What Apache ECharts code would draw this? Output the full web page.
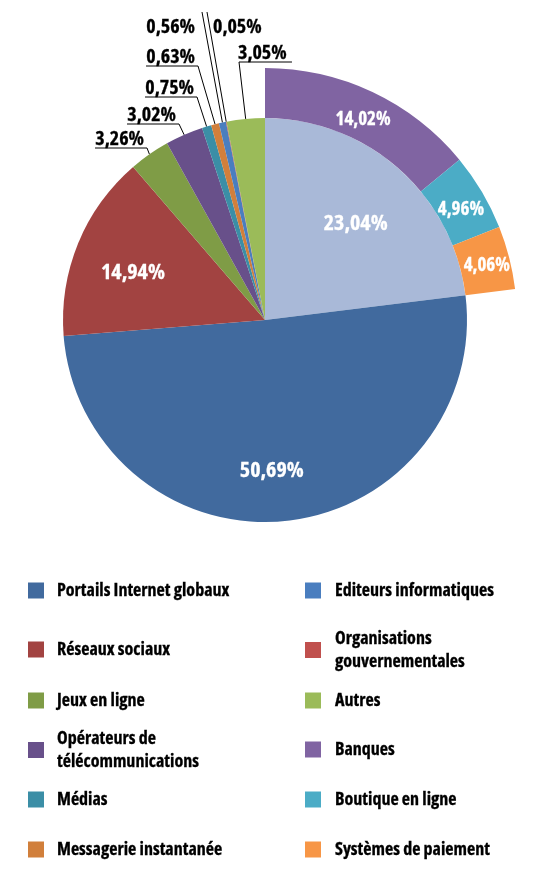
<!DOCTYPE html>
<html>
<head>
<meta charset="utf-8">
<script src="https://cdn.jsdelivr.net/npm/echarts@6/dist/echarts.min.js"></script>
<style>
  html, body { margin: 0; padding: 0; background: #fff; }
  #chart { width: 543px; height: 891px; }
</style>
</head>
<body>
<div id="chart"></div>
<script>
// inner pie (clockwise from top). first slice = total of the three outer ones
const innerNames = ['Commerce et paiement', 'Portails Internet globaux', 'Réseaux sociaux', 'Jeux en ligne',
  'Opérateurs de télécommunications', 'Médias', 'Messagerie instantanée', 'Editeurs informatiques',
  'Organisations gouvernementales', 'Autres'];
const innerValues = [23.04, 50.69, 14.94, 3.26, 3.02, 0.75, 0.63, 0.56, 0.05, 3.05];
const innerColors = ['#a9b9d8', '#416a9e', '#a24341', '#7f9c46', '#68508a', '#3b8ea6', '#d17f3b', '#4a7ebf',
  '#c0504d', '#9bbb59'];

// outer ring, detail of the first inner slice
const outerNames = ['Banques', 'Boutique en ligne', 'Systèmes de paiement'];
const outerValues = [14.02, 4.96, 4.06];
const outerColors = ['#8064a2', '#4bacc6', '#f79646'];

// legend, two columns
const legendLeft = ['Portails Internet globaux', 'Réseaux sociaux', 'Jeux en ligne',
  'Opérateurs de télécommunications', 'Médias', 'Messagerie instantanée'];
const legendRight = ['Editeurs informatiques', 'Organisations gouvernementales', 'Autres',
  'Banques', 'Boutique en ligne', 'Systèmes de paiement'];
const legendText = {
  'Opérateurs de télécommunications': 'Opérateurs de\ntélécommunications',
  'Organisations gouvernementales': 'Organisations\ngouvernementales'
};

// condensed face of Open Sans
const TXT = { fontFamily: '"Open Sans", "Open Sans Condensed", sans-serif', fontStyle: 'condensed', fontWeight: 700 };
const CX = 265, CY = 320, R = 202, R_OUT = 252;

const pct = v => v.toFixed(2).replace('.', ',') + '%';
const insideLabels = [0, 1, 2];   // big inner slices labelled inside

// where the callout lines bend (page pixels)
const callouts = {
  3: { kind: 'under', ex: 147, ey: 148 },
  4: { kind: 'under', ex: 179, ey: 124 },
  5: { kind: 'under', ex: 197, ey: 97 },
  6: { kind: 'under', ex: 198, ey: 66 },
  7: { kind: 'up-left', ex: 202, ey: 12, ly: 27 },
  8: { kind: 'up-right', ex: 207, ey: 12, ly: 27 },
  9: { kind: 'under-right', ex: 239, ey: 62 }
};
// small nudges of the labels drawn inside slices
const innerNudge = { 0: [-6, 13], 1: [-8, 5], 2: [3, 8] };
const outerNudge = { 0: [0, 8], 1: [-2, 7], 2: [-1, 3] };

const outerTotal = outerValues.reduce((a, b) => a + b, 0);
const innerTotal = innerValues.reduce((a, b) => a + b, 0);

const innerData = innerNames.map((n, i) => ({
  name: n, value: innerValues[i],
  itemStyle: { color: innerColors[i] },
  label: { show: !insideLabels.includes(i) },
  labelLine: { show: !insideLabels.includes(i) }
}));

const carrierData = innerNames.map((n, i) => ({
  name: n, value: innerValues[i],
  label: { show: insideLabels.includes(i) }
}));

const outerData = outerNames.map((n, i) => ({
  name: n, value: outerValues[i], itemStyle: { color: outerColors[i] }
}));
outerData.push({
  name: '', value: innerTotal - outerTotal,
  itemStyle: { color: 'transparent' }, label: { show: false }, emphasis: { disabled: true }
});

const legends = [];
[legendLeft, legendRight].forEach((col, c) => {
  const rowY = [590, 649, 700, 749, 799, 849];
  col.forEach((name, r) => {
    const lines = (legendText[name] || name).split('\n').length;
    legends.push({
      data: [name],
      left: c === 0 ? 28 : 305,
      top: rowY[r] - 11 * lines,
      padding: 0,
      icon: 'rect',
      itemWidth: 16,
      itemHeight: 16,
      selectedMode: false,
      formatter: n => legendText[n] || n,
      textStyle: Object.assign({}, TXT, {
        fontSize: 18, color: '#000', lineHeight: 23, padding: [0, 0, 0, c === 0 ? 8 : 9],
        textBorderColor: '#000', textBorderWidth: 0.3
      })
    });
  });
});

const nudge = table => p => {
  const d = table[p.dataIndex];
  return d ? { dx: d[0], dy: d[1] } : {};
};

const chart = echarts.init(document.getElementById('chart'), null, { renderer: 'canvas' });
chart.setOption({
  animation: false,
  legend: legends,
  series: [
    {
      type: 'pie',
      center: [CX, CY],
      radius: [0, R],
      startAngle: 90,
      clockwise: true,
      avoidLabelOverlap: false,
      silent: true,
      data: innerData,
      label: Object.assign({}, TXT, {
        position: 'outside',
        formatter: p => pct(p.value),
        fontSize: 20, color: '#000', textBorderColor: '#000', textBorderWidth: 0.3
      }),
      labelLine: { length: 10, length2: 20, lineStyle: { color: '#000', width: 1 } },
      labelLayout: function (p) {
        const c = callouts[p.dataIndex];
        if (!c || !p.labelLinePoints) return {};
        const s = p.labelLinePoints[0];
        const w = p.labelRect.width;
        if (c.kind === 'under') {
          return { x: c.ex - 3, y: c.ey + 1, align: 'right', verticalAlign: 'bottom',
            labelLinePoints: [s, [c.ex, c.ey], [c.ex - w - 3, c.ey]] };
        }
        if (c.kind === 'under-right') {
          return { x: c.ex - 1, y: c.ey + 1, align: 'left', verticalAlign: 'bottom',
            labelLinePoints: [s, [c.ex, c.ey], [c.ex + w + 4, c.ey]] };
        }
        if (c.kind === 'up-left') {
          return { x: c.ex - 7, y: c.ly, align: 'right', verticalAlign: 'middle',
            labelLinePoints: [s, [c.ex, c.ey], [c.ex, c.ey]] };
        }
        return { x: c.ex + 6, y: c.ly, align: 'left', verticalAlign: 'middle',
          labelLinePoints: [s, [c.ex, c.ey], [c.ex, c.ey]] };
      }
    },
    {
      // transparent ring that only carries the labels inside the big slices
      type: 'pie',
      center: [CX, CY],
      radius: [84, R],
      startAngle: 90,
      clockwise: true,
      silent: true,
      data: carrierData,
      itemStyle: { color: 'transparent' },
      label: Object.assign({}, TXT, {
        position: 'inside',
        formatter: p => pct(p.value),
        fontSize: 22, color: '#fff', textBorderColor: '#fff', textBorderWidth: 0.3
      }),
      labelLine: { show: false },
      labelLayout: nudge(innerNudge)
    },
    {
      type: 'pie',
      center: [CX, CY],
      radius: [R, R_OUT],
      startAngle: 90,
      clockwise: true,
      silent: true,
      data: outerData,
      label: Object.assign({}, TXT, {
        position: 'inside',
        formatter: p => pct(p.value),
        fontSize: 19, color: '#fff', textBorderColor: '#fff', textBorderWidth: 0.3
      }),
      labelLine: { show: false },
      labelLayout: nudge(outerNudge)
    }
  ]
});
</script>
</body>
</html>
